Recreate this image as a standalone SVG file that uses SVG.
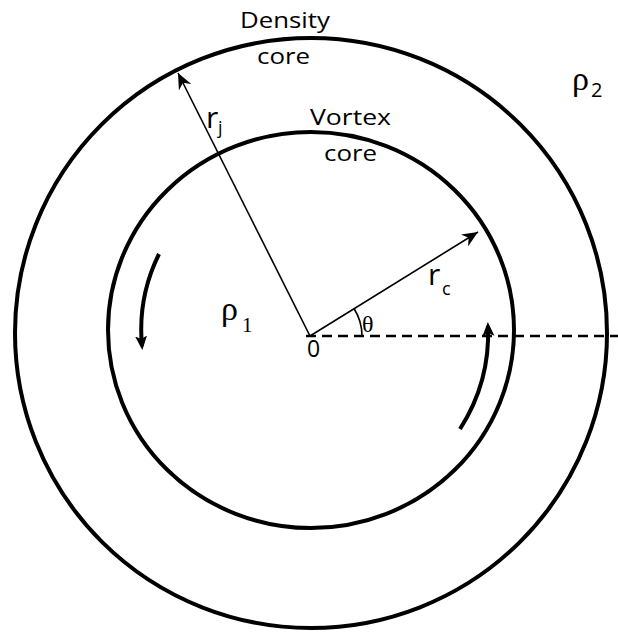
<svg xmlns="http://www.w3.org/2000/svg" width="618" height="632" viewBox="0 0 618 632">
<style>
.ring{fill:none;stroke:#000;stroke-width:4}
.thin{fill:none;stroke:#000;stroke-width:1.6}
.rot{fill:none;stroke:#000;stroke-width:4}
.dash{fill:none;stroke:#000;stroke-width:2.6;stroke-dasharray:10 6}
.lbl{font-family:"Open Sans","Liberation Sans",sans-serif;fill:#000}
.sym{font-family:"Liberation Serif","DejaVu Serif",serif;fill:#000}
</style>
<defs>
<marker id="ah" markerUnits="userSpaceOnUse" markerWidth="18" markerHeight="14" refX="16" refY="7" orient="auto">
<path d="M0,0 L16,7 L0,14 L5,7 z" fill="#000"/>
</marker>
<marker id="ah2" markerUnits="userSpaceOnUse" markerWidth="16" markerHeight="14" refX="10" refY="7" orient="auto">
<path d="M0,1 L14,7 L0,13 L3,7 z" fill="#000"/>
</marker>
</defs>
<g id="outer-ring"><ellipse class="ring" cx="311" cy="333" rx="296" ry="295"/></g>
<g id="inner-ring"><ellipse class="ring" cx="311" cy="330" rx="203" ry="198"/></g>
<g id="connectors">
<line class="dash" x1="306" y1="336" x2="618" y2="336"/>
<line class="thin" x1="310" y1="336" x2="178" y2="73" marker-end="url(#ah)"/>
<line class="thin" x1="310" y1="336" x2="478" y2="232" marker-end="url(#ah)"/>
<path class="thin" d="M354,308.5 A52,52 0 0 1 362,336"/>
<path class="rot" d="M159,254 A171,171 0 0 0 142,346" marker-end="url(#ah2)"/>
<path class="rot" d="M460,429 A177,177 0 0 0 488,326" marker-end="url(#ah2)"/>
</g>
<g id="labels">
<text class="lbl" x="240" y="28" font-size="22" textLength="90" lengthAdjust="spacingAndGlyphs">Density</text>
<text class="lbl" x="257" y="64" font-size="22" textLength="53" lengthAdjust="spacingAndGlyphs">core</text>
<text class="lbl" x="310" y="125" font-size="22" textLength="81" lengthAdjust="spacingAndGlyphs">Vortex</text>
<text class="lbl" x="324" y="161" font-size="22" textLength="53" lengthAdjust="spacingAndGlyphs">core</text>
<text class="lbl" x="206" y="128" font-size="30">r</text>
<text class="lbl" x="218" y="134" font-size="18">j</text>
<text class="lbl" x="428" y="285" font-size="30">r</text>
<text class="lbl" x="442" y="295" font-size="18">c</text>
<text class="sym" x="362" y="332" font-size="24">θ</text>
<text class="lbl" x="307" y="357" font-size="23">0</text>
<text class="sym" x="221" y="320" font-size="34">ρ</text>
<text class="sym" x="242" y="332" font-size="21">1</text>
<text class="sym" x="572" y="90" font-size="34">ρ</text>
<text class="lbl" x="591" y="97" font-size="20">2</text>
</g>
</svg>
